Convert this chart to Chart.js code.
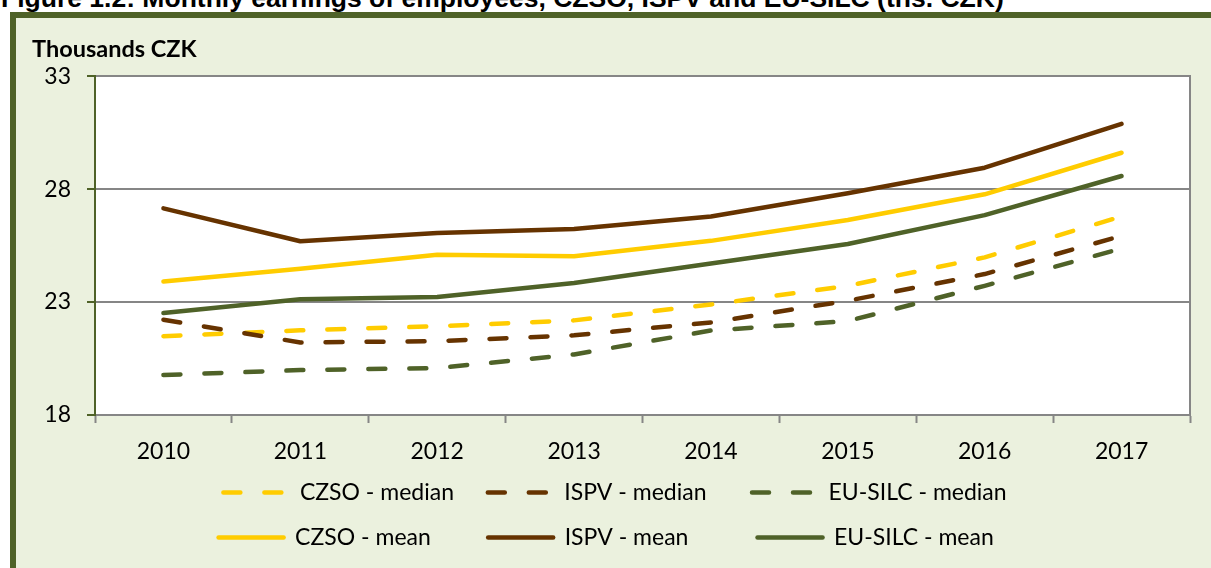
<!DOCTYPE html>
<html>
<head>
<meta charset="utf-8">
<script src="https://cdn.jsdelivr.net/npm/chart.js@4.4.1/dist/chart.umd.min.js"></script>
<style>
  html, body { margin: 0; padding: 0; background: #fff; overflow: hidden; }
  body { width: 1211px; height: 568px; position: relative; }
  #caption {
    position: absolute; left: 1px; top: -15px;
    font: bold 26.5px "Liberation Sans", Arial, sans-serif; line-height: 26.5px;
    white-space: nowrap; color: #000;
  }
  #frame {
    position: absolute; left: 10px; top: 12px; width: 1240px; height: 600px;
    background: #ebf1de; border-left: 6px solid #4f6228; border-top: 6px solid #4f6228;
  }
  #chart { position: absolute; left: 0; top: 0; }
</style>
</head>
<body>
<div id="caption">Figure 1.2: Monthly earnings of employees, CZSO, ISPV and EU-SILC (ths. CZK)</div>
<div id="frame"></div>
<canvas id="chart" width="1211" height="559"></canvas>
<script>
// --- données (milliers CZK) ---
const years = ['2010', '2011', '2012', '2013', '2014', '2015', '2016', '2017'];
const czsoMedian = [21.49, 21.75, 21.93, 22.19, 22.89, 23.72, 24.98, 26.79];
const ispvMedian = [22.22, 21.21, 21.27, 21.53, 22.10, 23.06, 24.24, 25.93];
const silcMedian = [19.77, 19.99, 20.08, 20.68, 21.74, 22.16, 23.72, 25.37];
const czsoMean = [23.91, 24.47, 25.09, 25.03, 25.71, 26.63, 27.77, 29.61];
const ispvMean = [27.15, 25.69, 26.06, 26.24, 26.79, 27.82, 28.95, 30.89];
const silcMean = [22.52, 23.12, 23.22, 23.84, 24.71, 25.57, 26.85, 28.58];

const YELLOW = '#ffcc00';
const BROWN = '#663300';
const OLIVE = '#4f6228';
const GREY = '#868686';
const FONT = 'Lato, "Noto Sans", sans-serif';
const DASH = [17, 24];
const LEGEND_SIZE = 23;
const LEGEND_PAD = 22;
const LEGEND_COL = 268; // largeur d'une colonne de légende (style Excel)

function serie(label, data, color, dashed, idx) {
    return {
        label: label,
        data: data,
        borderColor: color,
        backgroundColor: color,
        borderWidth: 4.5,
        borderDash: dashed ? DASH : [],
        borderCapStyle: 'round',
        borderJoinStyle: 'round',
        pointRadius: 0,
        tension: 0,
        order: 10 - idx // Excel dessine la dernière série au-dessus
    };
}

// fond blanc de la zone de tracé
const plotBg = {
    id: 'plotBg',
    beforeDraw(chart) {
        const a = chart.chartArea;
        const ctx = chart.ctx;
        ctx.save();
        ctx.fillStyle = '#ffffff';
        ctx.fillRect(a.left, a.top, a.right - a.left, a.bottom - a.top);
        ctx.restore();
    }
};

// légende sur 2 lignes de 3 éléments
const legendRows = {
    id: 'legendRows',
    beforeLayout(chart) {
        const lg = chart.legend;
        if (lg && !lg._rowsPatched) {
            const orig = lg.update.bind(lg);
            lg.update = (w, h, m) => orig(Math.min(w, 900), h, m);
            lg._rowsPatched = true;
        }
    }
};

// complète le texte avec des espaces pour obtenir des colonnes régulières
function padText(ctx, text, target) {
    let t = text;
    while (ctx.measureText(t + ' ').width <= target + 2) t += ' ';
    return t;
}

new Chart(document.getElementById('chart'), {
    type: 'line',
    data: {
        labels: years,
        datasets: [
            serie('CZSO - median', czsoMedian, YELLOW, true, 0),
            serie('ISPV - median', ispvMedian, BROWN, true, 1),
            serie('EU-SILC - median', silcMedian, OLIVE, true, 2),
            serie('CZSO - mean', czsoMean, YELLOW, false, 3),
            serie('ISPV - mean', ispvMean, BROWN, false, 4),
            serie('EU-SILC - mean', silcMean, OLIVE, false, 5)
        ]
    },
    options: {
        responsive: false,
        animation: false,
        devicePixelRatio: 1,
        layout: { padding: { top: 0, left: 32, right: 13, bottom: 0 } },
        plugins: {
            tooltip: { enabled: false },
            title: {
                display: true,
                text: 'Thousands CZK',
                align: 'start',
                color: '#000',
                font: { family: FONT, size: 23.5, weight: 'bold' },
                padding: { top: 35, bottom: 13 }
            },
            legend: {
                position: 'bottom',
                labels: {
                    color: '#000',
                    font: { family: FONT, size: LEGEND_SIZE },
                    usePointStyle: true,
                    pointStyle: 'line',
                    pointStyleWidth: 65,
                    padding: LEGEND_PAD,
                    generateLabels(chart) {
                        const items = Chart.defaults.plugins.legend.labels.generateLabels(chart);
                        const ctx = chart.ctx;
                        ctx.save();
                        ctx.font = LEGEND_SIZE + 'px ' + FONT;
                        const textCol = LEGEND_COL - LEGEND_PAD - 65 - LEGEND_SIZE / 2;
                        const lastCol = Math.max(...items.filter(it => it.datasetIndex % 3 === 2)
                            .map(it => ctx.measureText(it.text).width));
                        items.forEach(it => {
                            const ds = chart.data.datasets[it.datasetIndex];
                            it.lineDash = ds.borderDash;
                            it.lineWidth = ds.borderWidth;
                            it.lineCap = 'round';
                            it.strokeStyle = ds.borderColor;
                            it.text = padText(ctx, it.text, it.datasetIndex % 3 === 2 ? lastCol : textCol);
                        });
                        ctx.restore();
                        return items;
                    },
                    sort: (a, b) => a.datasetIndex - b.datasetIndex
                }
            }
        },
        scales: {
            x: {
                offset: true,
                grid: { offset: true, drawOnChartArea: false, tickLength: 8, tickColor: GREY, tickWidth: 2 },
                border: { color: GREY, width: 2 },
                ticks: { color: '#000', font: { family: FONT, size: 23 }, padding: 15, maxRotation: 0 },
                afterFit: (s) => { s.height = 44; }
            },
            y: {
                min: 18,
                max: 33,
                grid: { color: GREY, lineWidth: 2, tickLength: 8, tickColor: OLIVE, tickWidth: 2 },
                border: { color: OLIVE, width: 2 },
                ticks: { stepSize: 5, color: '#000', font: { family: FONT, size: 23 }, padding: 16 },
                afterFit: (s) => { s.width = 63; }
            },
            yr: {
                position: 'right',
                grid: { display: false },
                ticks: { display: false },
                border: { color: GREY, width: 2 }
            }
        }
    },
    plugins: [plotBg, legendRows]
});
</script>
</body>
</html>
